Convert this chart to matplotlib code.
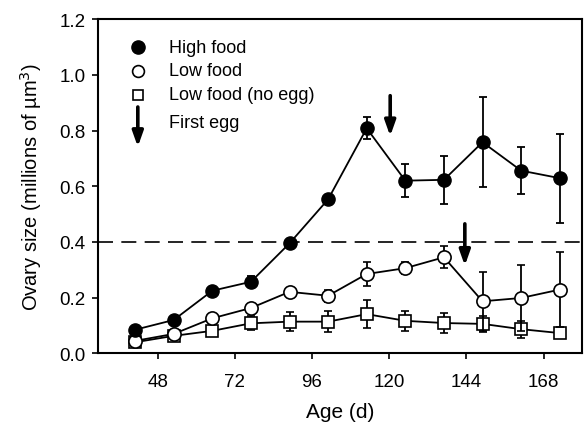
import matplotlib.pyplot as plt
import numpy as np

plt.rcParams['font.family'] = ['Liberation Sans', 'DejaVu Sans']

# Ovary size (millions of um^3) by age, mean +/- SE
age = [41, 53, 65, 77, 89, 101, 113, 125, 137, 149, 161, 173]

high_food = [0.085, 0.12, 0.225, 0.257, 0.395, 0.553, 0.808, 0.62, 0.623, 0.758, 0.656, 0.629]
high_err = [0.01, 0.012, 0.012, 0.02, 0.012, 0.015, 0.04, 0.06, 0.085, 0.162, 0.085, 0.16]

low_food = [0.045, 0.07, 0.126, 0.163, 0.221, 0.207, 0.285, 0.306, 0.345, 0.187, 0.199, 0.229]
low_err = [0.008, 0.01, 0.012, 0.012, 0.012, 0.022, 0.042, 0.022, 0.04, 0.105, 0.12, 0.135]

no_egg = [0.04, 0.063, 0.081, 0.108, 0.114, 0.114, 0.141, 0.117, 0.109, 0.106, 0.087, 0.073]
no_egg_err = [0.008, 0.01, 0.012, 0.025, 0.035, 0.038, 0.05, 0.035, 0.035, 0.03, 0.03, 0.01]

threshold = 0.4
first_egg_age = [120.3, 143.5]
first_egg_top = [0.925, 0.465]
first_egg_bottom = [0.78, 0.315]

fig = plt.figure(figsize=(5.84, 4.27), dpi=100)
ax = fig.add_axes([0.168, 0.170, 0.829, 0.783])

ax.axhline(threshold, color='black', lw=1.2, dashes=(9, 5), zorder=1)

common = dict(color='black', lw=1.3, capsize=3, elinewidth=1.3, capthick=1.3)
ax.errorbar(age, no_egg, yerr=no_egg_err, marker='s', ms=8, mfc='white',
            mec='black', mew=1.2, zorder=3, **common)
ax.errorbar(age, low_food, yerr=low_err, marker='o', ms=9.5, mfc='white',
            mec='black', mew=1.2, zorder=4, **common)
ax.errorbar(age, high_food, yerr=high_err, marker='o', ms=9.5, mfc='black',
            mec='black', zorder=5, **common)

arrow_style = dict(arrowstyle='-|>,head_length=0.9,head_width=0.32',
                   color='black', lw=2.6, shrinkA=0, shrinkB=0)

# first-egg arrows
for xa, yt, yb in zip(first_egg_age, first_egg_top, first_egg_bottom):
    ax.annotate('', xy=(xa, yb), xytext=(xa, yt), arrowprops=arrow_style)

# legend drawn by hand
mx, tx = 0.082, 0.147
ax.plot(mx, 0.916, 'o', ms=9.5, color='black', transform=ax.transAxes)
ax.plot(mx, 0.846, 'o', ms=8.5, mfc='white', mec='black', mew=1.2, transform=ax.transAxes)
ax.plot(mx, 0.774, 's', ms=7.5, mfc='white', mec='black', mew=1.2, transform=ax.transAxes)
ax.annotate('', xy=(mx, 0.618), xytext=(mx, 0.737), xycoords='axes fraction',
            arrowprops=arrow_style)
labels = ['High food', 'Low food', 'Low food (no egg)', 'First egg']
for yy, lab in zip([0.916, 0.846, 0.774, 0.690], labels):
    ax.text(tx, yy, lab, transform=ax.transAxes, va='center', ha='left', fontsize=13)

ax.set_xlim(29.5, 180)
ax.set_ylim(0, 1.2)
ax.set_xticks([48, 72, 96, 120, 144, 168])
ax.set_yticks(np.arange(0, 1.21, 0.2))
ax.set_yticklabels([f'{v:.1f}' for v in np.arange(0, 1.21, 0.2)])
ax.tick_params(direction='out', length=4, width=1.2, labelsize=13.5)
ax.tick_params(axis='x', pad=10)
ax.tick_params(axis='y', pad=5)
for s in ax.spines.values():
    s.set_linewidth(1.5)

ax.set_xlabel('Age (d)', fontsize=15, labelpad=9)
ax.set_ylabel('Ovary size (millions of \u00b5m$^3$)', fontsize=14.5, labelpad=11)

fig.savefig('out.png', dpi=100)
